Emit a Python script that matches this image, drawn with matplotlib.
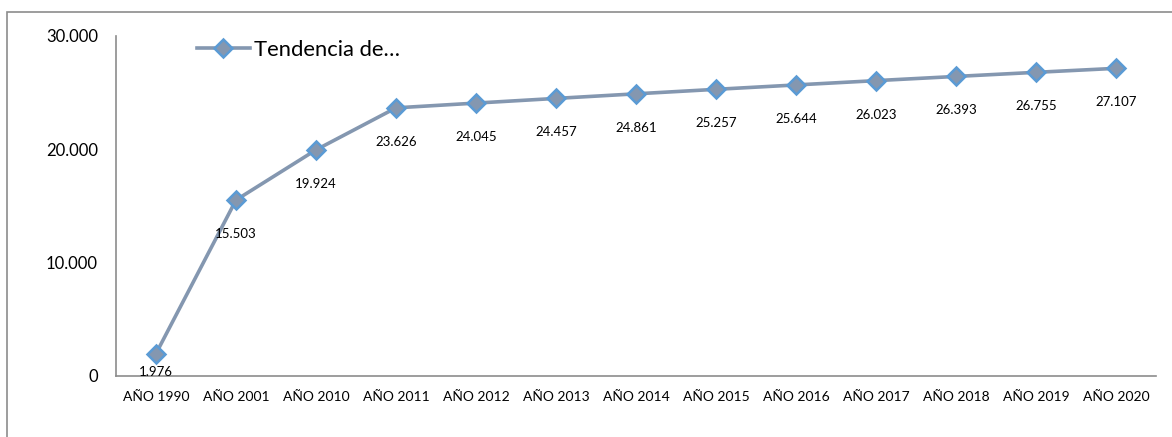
import matplotlib
matplotlib.use("Agg")
import matplotlib.pyplot as plt
from matplotlib.patches import Rectangle

# dati
anni = ["AÑO 1990", "AÑO 2001", "AÑO 2010", "AÑO 2011", "AÑO 2012", "AÑO 2013",
        "AÑO 2014", "AÑO 2015", "AÑO 2016", "AÑO 2017", "AÑO 2018", "AÑO 2019",
        "AÑO 2020"]
valori = [1976, 15503, 19924, 23626, 24045, 24457, 24861, 25257, 25644,
          26023, 26393, 26755, 27107]
etichette_y = ["0", "10.000", "20.000", "30.000"]
nome_serie = "Tendencia de…"

plt.rcParams["font.family"] = ["Lato", "DejaVu Sans"]

W, H = 1172, 437
fig = plt.figure(figsize=(W / 100, H / 100), dpi=100)

# cornice esterna (tagliata a destra e in basso)
fig.patches.append(Rectangle((7 / W, -0.1), 1.2, 1 - 12 / H + 0.1,
                             transform=fig.transFigure, fill=False,
                             edgecolor="#8c8c8c", linewidth=1.2))

ax = fig.add_axes([116 / W, 1 - 376 / H, (1156 - 116) / W, (376 - 35.5) / H])

xs = list(range(len(anni)))
ax.plot(xs, valori, color="#8497B0", linewidth=2.6, marker="D", markersize=9.5,
        markerfacecolor="#8497B0", markeredgecolor="#5B9BD5",
        markeredgewidth=1.8, label=nome_serie, zorder=3)

for i, (x, v) in enumerate(zip(xs, valori)):
    off = -13.5 if i == 0 else -24.5
    ax.annotate(f"{v:,}".replace(",", "."), (x, v), xytext=(0, off),
                textcoords="offset points", ha="center", va="center",
                fontsize=9.5, color="black", zorder=4)

ax.set_xlim(-0.5, len(anni) - 0.5)
ax.set_ylim(0, 30000)
ax.set_xticks(xs)
ax.set_xticklabels(anni, fontsize=10)
ax.set_yticks([0, 10000, 20000, 30000])
ax.set_yticklabels(etichette_y, fontsize=12)
ax.tick_params(axis="both", length=0)
ax.tick_params(axis="x", pad=11)
ax.tick_params(axis="y", pad=13)

for s in ("top", "right"):
    ax.spines[s].set_visible(False)
for s in ("left", "bottom"):
    ax.spines[s].set_color("#8c8c8c")
    ax.spines[s].set_linewidth(1.2)

ax.legend(loc="upper left", bbox_to_anchor=(197 / W, 1 - 40 / H),
          bbox_transform=fig.transFigure, frameon=False, fontsize=15.8,
          handlelength=2.4, handletextpad=0.2, borderaxespad=0,
          borderpad=0)

fig.savefig("out.png", dpi=100)
